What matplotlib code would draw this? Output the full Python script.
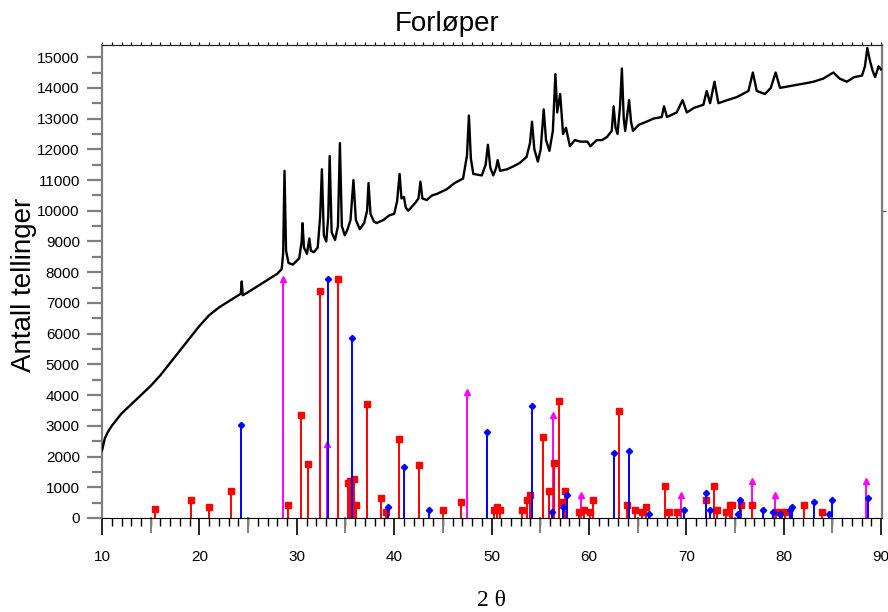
import matplotlib
matplotlib.use('Agg')
import matplotlib.pyplot as plt
import matplotlib.transforms as mtransforms
import numpy as np

plt.rcParams['font.family'] = ['Liberation Sans', 'DejaVu Sans']

# measured pattern (2 theta, counts)
scan_2theta = [
    10.0, 10.3, 10.6, 11.0, 11.5, 12.0, 12.5, 13.0, 13.5, 14.0, 15.0, 16.0, 17.0, 18.0, 19.0,
    20.0, 21.0, 22.0, 23.0, 24.0, 24.25, 24.35, 24.45, 25.0, 26.0, 27.0, 28.0, 28.45, 28.6,
    28.74, 28.9, 29.15, 29.6, 30.25, 30.5, 30.59, 30.74, 31.05, 31.29, 31.45, 31.75, 32.15,
    32.4, 32.58, 32.78, 33.03, 33.23, 33.38, 33.58, 33.93, 34.23, 34.43, 34.63, 34.93, 35.22,
    35.52, 35.82, 36.07, 36.47, 36.92, 37.22, 37.37, 37.57, 37.92, 38.2, 38.9, 39.5, 40.0,
    40.3, 40.56, 40.75, 41.0, 41.2, 41.45, 42.15, 42.5, 42.7, 42.9, 43.35, 43.9, 44.4, 45.4,
    46.2, 47.08, 47.48, 47.68, 47.88, 48.13, 49.0, 49.4, 49.63, 49.88, 50.18, 50.48, 50.63,
    50.88, 51.6, 52.27, 52.87, 53.6, 53.95, 54.16, 54.4, 54.76, 55.05, 55.36, 55.6, 55.95,
    56.3, 56.56, 56.75, 57.05, 57.35, 57.65, 58.05, 58.55, 59.15, 59.85, 60.15, 60.8, 61.35,
    61.85, 62.35, 62.54, 62.74, 62.94, 63.2, 63.39, 63.58, 63.73, 64.13, 64.33, 64.53, 65.13,
    65.93, 66.63, 67.48, 67.72, 68.02, 69.02, 69.62, 70.06, 70.8, 71.76, 72.1, 72.45, 72.9,
    73.3, 74.2, 75.2, 76.39, 76.84, 77.24, 78.09, 78.68, 79.18, 79.63, 80.48, 81.37, 82.27,
    83.07, 84.06, 85.11, 85.76, 86.5, 87.25, 88.05, 88.35, 88.6, 88.85, 89.15, 89.4, 89.75,
    90.0,
]
scan_counts = [
    2200, 2600, 2800, 3000, 3200, 3400, 3550, 3700, 3850, 4000, 4300, 4650, 5050, 5450, 5850,
    6250, 6600, 6850, 7050, 7250, 7300, 7700, 7250, 7350, 7550, 7750, 7950, 8100, 8600,
    11300, 8700, 8300, 8250, 8450, 9000, 9600, 8800, 8600, 9100, 8700, 8650, 8800,
    9800, 11350, 9200, 9000, 9800, 11780, 9300, 9050, 9500, 12200, 9500, 9200, 9400,
    9700, 11000, 9700, 9400, 9600, 10000, 10900, 9900, 9650, 9600, 9700, 9850, 9900,
    10300, 11200, 10400, 10450, 10100, 10000, 10250, 10400, 10950, 10400, 10350, 10500, 10550, 10700,
    10900, 11050, 11800, 13100, 11700, 11200, 11150, 11500, 12150, 11400, 11150, 11400, 11650,
    11300, 11350, 11450, 11550, 11750, 12200, 12900, 12000, 11600, 12000, 13300, 12300, 11950,
    12600, 14450, 13200, 13800, 12500, 12700, 12100, 12300, 12250, 12250, 12100, 12300, 12300,
    12400, 12600, 13400, 12700, 12500, 13400, 14630, 13000, 12600, 13600, 12900, 12600, 12800,
    12900, 13000, 13050, 13400, 13050, 13200, 13600, 13200, 13350, 13450, 13900, 13500, 14200,
    13500, 13600, 13700, 13900, 14500, 13900, 13800, 14000, 14500, 14000, 14050, 14100, 14150,
    14200, 14300, 14500, 14300, 14200, 14350, 14400, 14700, 15300, 14900, 14550, 14350, 14700,
    14600,
]

# reference phases (stick patterns)
red_pos = [15.48, 19.12, 20.97, 23.26, 29.14, 30.39, 31.14, 32.38, 34.23, 35.22, 35.42, 35.87,
           36.12, 37.22, 38.61, 39.16, 40.46, 42.6, 44.99, 46.89, 50.28, 50.53, 50.87, 53.17,
           53.66, 53.96, 55.26, 55.86, 56.46, 56.9, 57.3, 57.55, 58.95, 59.55, 60.15, 60.39,
           63.14, 63.93, 64.73, 65.43, 65.88, 67.77, 68.22, 69.07, 72.06, 72.8, 73.2, 74.1,
           74.5, 74.75, 75.6, 76.74, 79.18, 79.88, 80.18, 82.08, 83.97]
red_int = [280, 590, 360, 890, 420, 3340, 1750, 7400, 7780, 1130, 1200, 1270,
           420, 3720, 660, 200, 2570, 1735, 270, 510, 270, 360, 270, 270,
           590, 740, 2650, 890, 1800, 3800, 510, 890, 195, 270, 195, 590,
           3490, 430, 270, 195, 360, 1040, 195, 195, 590, 1040, 270, 195,
           430, 430, 430, 430, 195, 195, 195, 430, 195]

blue_pos = [24.26, 33.23, 35.72, 39.41, 40.98, 43.6, 49.54, 54.16, 56.22, 57.35, 57.8, 62.54,
            64.08, 66.18, 69.72, 72.06, 72.41, 75.3, 75.55, 77.89, 78.88, 79.58, 80.68, 80.88,
            83.07, 84.67, 85.02, 88.66]
blue_int = [3040, 7780, 5870, 350, 1660, 270, 2800, 3640, 200, 360, 740, 2115,
            2190, 120, 270, 810, 270, 120, 590, 270, 195, 120, 270, 360,
            510, 120, 590, 660]

mag_pos = [28.6, 33.13, 47.48, 56.36, 59.15, 69.42, 76.74, 79.08, 88.46]
mag_int = [7780, 2410, 4090, 3340, 740, 740, 1200, 740, 1200]

fig = plt.figure(figsize=(8.88, 6.12), dpi=100)
ax = fig.add_axes([0.1149, 0.1536, 0.8783, 0.7721])

ax.plot(scan_2theta, scan_counts, color='black', lw=1.7, zorder=3)

ax.vlines(mag_pos, 0, mag_int, color='#ff00ff', lw=1.4, zorder=2)
ax.plot(mag_pos, mag_int, '^', color='#ff00ff', ms=4, ls='none', zorder=2)
ax.vlines(red_pos, 0, red_int, color='#ff0000', lw=1.4, zorder=2)
ax.plot(red_pos, red_int, 's', color='#ff0000', ms=4, ls='none', zorder=2)
ax.vlines(blue_pos, 0, blue_int, color='#0000ff', lw=1.4, zorder=2)
ax.plot(blue_pos, blue_int, 'D', color='#0000ff', ms=3.2, ls='none', zorder=2)

ax.set_xlim(10, 90.1)
ax.set_ylim(0, 15380)

ax.set_xticks(np.arange(10, 91, 10))
ax.set_xticks(np.arange(10, 91, 1), minor=True)
ax.set_yticks(np.arange(0, 15001, 1000))
ax.set_yticks(np.arange(0, 15001, 500), minor=True)

ax.tick_params(axis='x', which='major', direction='out', length=12, width=1.2,
               color='black', labelsize=11, pad=11)
ax.tick_params(axis='x', which='minor', direction='out', length=6, width=1, color='black')
ax.tick_params(axis='y', which='major', direction='out', length=11, width=1.6,
               color='#7f7f7f', labelsize=11, pad=5)
ax.tick_params(axis='y', which='minor', direction='out', length=7, width=1.6, color='#7f7f7f')

# medium ticks at the fives
trans = mtransforms.blended_transform_factory(ax.transData, ax.transAxes)
for v in range(15, 90, 10):
    ax.plot([v, v], [0, -0.03], color='#7f7f7f', lw=1.4, transform=trans, clip_on=False)

ax.spines['left'].set_color('#7f7f7f')
ax.spines['left'].set_linewidth(1.6)
ax.spines['right'].set_color('#7f7f7f')
ax.spines['right'].set_linewidth(1.6)
ax.spines['top'].set_color('#222222')
ax.spines['bottom'].set_color('black')

top = ax.secondary_xaxis('top')
top.set_xticks(np.arange(10, 91, 1))
top.tick_params(direction='out', length=2.5, width=0.8, labeltop=False)
top.set_xticklabels([])

right = ax.secondary_yaxis('right')
right.set_yticks([10000])
right.tick_params(direction='out', length=3, width=0.8, color='#555555')
right.set_yticklabels([])

fig.text(0.503, 0.961, 'Forløper', ha='center', va='center', fontsize=20)
fig.text(0.027, 0.534, 'Antall tellinger', ha='center', va='center', rotation=90, fontsize=20)
fig.text(0.554, 0.018, '2 θ', ha='center', va='center', fontsize=17,
         family=['Liberation Serif', 'DejaVu Serif'])

fig.savefig('out.png', dpi=100)
